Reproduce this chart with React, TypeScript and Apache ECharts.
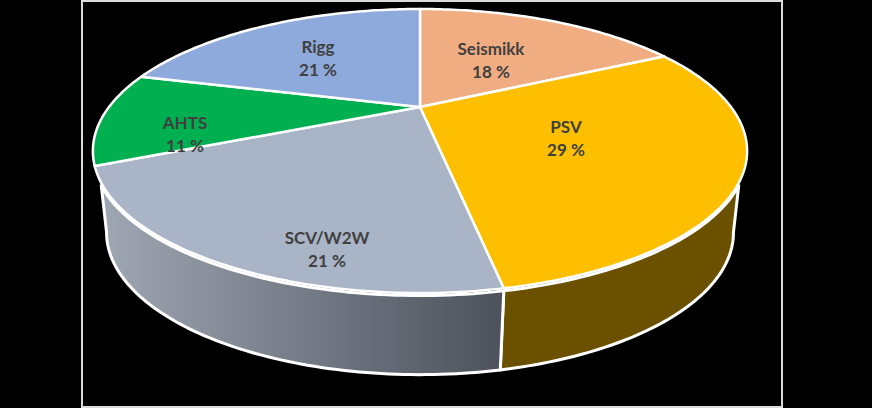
import React, { useEffect, useRef } from "react";
import * as echarts from "echarts";

const categories = ["Seismikk", "PSV", "SCV/W2W", "AHTS", "Rigg"];
const shares = [17.6, 29.4, 21.4, 10.7, 20.9];
const percentLabels = ["18 %", "29 %", "21 %", "11 %", "21 %"];

const faceColors = ["#f0ad82", "#fdbf00", "#a9b4c6", "#00b050", "#8ea9db"];
const sideStops: (string[] | null)[] = [
  null,
  ["#6b5000", "#6b5000"],
  ["#9fa7b3", "#4c515b"],
  null,
  null,
];
const labelCentres = [
  [491, 60],
  [566, 138],
  [327, 249],
  [185, 134],
  [318, 58],
];

// Perspective projection of the pie's circular rim
const CX = 420;
const APEX_Y = 107;
const TILT = -0.31;
const TOP = { a: 95.2, b: APEX_Y, w: 311 };
const BOTTOM = { a: 70, b: 188.5, w: 298 };
const FRONT_TOP = [120, 240];
const FRONT_BOTTOM = [108, 252];
const TOTAL = shares.reduce((s, v) => s + v, 0);

function project(deg: number, p: { a: number; b: number; w: number }, dy = 0): number[] {
  const t = (deg * Math.PI) / 180;
  const x = Math.sin(t);
  const y = -Math.cos(t);
  const d = 1 + TILT * y;
  return [CX + (p.w * x) / d, (p.a * y + p.b) / d + dy];
}

function arc(from: number, to: number, p: { a: number; b: number; w: number }, dy = 0): number[][] {
  const n = Math.max(2, Math.ceil(Math.abs(to - from)));
  const pts: number[][] = [];
  for (let i = 0; i <= n; i++) pts.push(project(from + ((to - from) * i) / n, p, dy));
  return pts;
}

function angles(index: number): [number, number] {
  let sum = 0;
  for (let i = 0; i < index; i++) sum += shares[i];
  return [(sum / TOTAL) * 360, ((sum + shares[index]) / TOTAL) * 360];
}

const seriesData = shares.map((v, i) => ({ name: categories[i], value: [i, v] }));

export default function App() {
  const ref = useRef<HTMLDivElement>(null);
  useEffect(() => {
    document.body.style.margin = "0";
    const chart = echarts.init(ref.current!, undefined, { renderer: "svg" });
    chart.setOption({
      animation: false,
      backgroundColor: "#000000",
      graphic: [
        {
          type: "rect",
          shape: { x: 82, y: 1, width: 700, height: 406 },
          style: { fill: "none", stroke: "#dcdcdc", lineWidth: 2 },
          silent: true,
        },
      ],
      series: [
        {
          type: "custom",
          coordinateSystem: "none",
          silent: true,
          z: 1,
          data: seriesData,
          renderItem: (_p: any, api: any) => {
            const i = api.value(0) as number;
            const stops = sideStops[i];
            if (!stops) return null;
            const [a, b] = angles(i);
            const topFrom = Math.max(a, FRONT_TOP[0]);
            const topTo = Math.min(b, FRONT_TOP[1]);
            const botFrom = a < FRONT_TOP[0] ? FRONT_BOTTOM[0] : a;
            const botTo = b > FRONT_TOP[1] ? FRONT_BOTTOM[1] : b;
            const points = [...arc(topFrom, topTo, TOP, 2.5), ...arc(botTo, botFrom, BOTTOM)];
            return {
              type: "polygon",
              shape: { points },
              style: {
                fill: new echarts.graphic.LinearGradient(0, 0, 1, 0, [
                  { offset: 0, color: stops[0] },
                  { offset: 1, color: stops[1] },
                ]),
                stroke: "#ffffff",
                lineWidth: 3,
                lineJoin: "round",
              },
            };
          },
        },
        {
          type: "custom",
          coordinateSystem: "none",
          silent: true,
          z: 2,
          data: seriesData,
          renderItem: (_p: any, api: any) => {
            const i = api.value(0) as number;
            const [a, b] = angles(i);
            const points = [[CX, APEX_Y], ...arc(a, b, TOP)];
            return {
              type: "polygon",
              shape: { points },
              style: { fill: faceColors[i], stroke: "#ffffff", lineWidth: 2.5, lineJoin: "round" },
            };
          },
        },
        {
          type: "custom",
          coordinateSystem: "none",
          silent: true,
          z: 3,
          data: seriesData,
          renderItem: (_p: any, api: any) => {
            const i = api.value(0) as number;
            const [x, y] = labelCentres[i];
            const font = 'bold 17px Lato, "Open Sans", sans-serif';
            return {
              type: "group",
              children: [
                {
                  type: "text",
                  style: { text: categories[i], x, y: y - 11.5, align: "center", verticalAlign: "middle", fill: "#404040", font },
                },
                {
                  type: "text",
                  style: { text: percentLabels[i], x, y: y + 11.5, align: "center", verticalAlign: "middle", fill: "#404040", font },
                },
              ],
            };
          },
        },
      ],
    });
    return () => chart.dispose();
  }, []);
  return <div ref={ref} style={{ width: 872, height: 408 }} />;
}
